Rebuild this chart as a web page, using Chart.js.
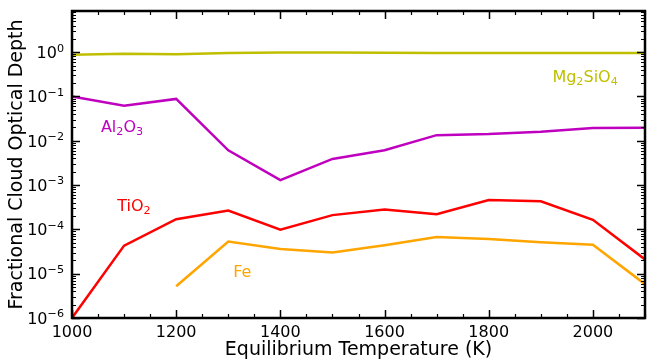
<!DOCTYPE html>
<html>
<head>
<meta charset="utf-8">
<script src="https://cdn.jsdelivr.net/npm/chart.js@4.4.1/dist/chart.umd.min.js"></script>
<style>
  html, body { margin: 0; padding: 0; background: #fff; }
  #wrap { width: 647px; height: 362px; }
</style>
</head>
<body>
<div id="wrap"><canvas id="c" width="647" height="362"></canvas></div>
<script>
// ---- Data ----
const temperatures = [1000, 1100, 1200, 1300, 1400, 1500, 1600, 1700, 1800, 1900, 2000, 2100];
const mg2sio4 = [0.88, 0.92, 0.90, 0.96, 0.98, 0.98, 0.97, 0.96, 0.96, 0.96, 0.96, 0.96];
const al2o3   = [0.10, 0.062, 0.088, 0.0061, 0.0013, 0.0039, 0.0061, 0.0134, 0.0142, 0.016, 0.0195, 0.0198];
const tio2    = [1.0e-6, 4.3e-5, 1.7e-4, 2.65e-4, 9.8e-5, 2.1e-4, 2.8e-4, 2.2e-4, 4.6e-4, 4.3e-4, 1.65e-4, 2.1e-5];
const fe      = [null, null, 5.2e-6, 5.3e-5, 3.6e-5, 3.0e-5, 4.4e-5, 6.7e-5, 6.1e-5, 5.1e-5, 4.5e-5, 5.8e-6];

// names / labels in a light mathtext form: _x subscript, ^{..} superscript
const seriesNames = ['Mg_2SiO_4', 'Al_2O_3', 'TiO_2', 'Fe'];
const xTickValues = [1000, 1200, 1400, 1600, 1800, 2000];
const yTickValues = [1e-6, 1e-5, 1e-4, 1e-3, 1e-2, 1e-1, 1];
const yTickLabels = ['10^{−6}', '10^{−5}', '10^{−4}', '10^{−3}', '10^{−2}', '10^{−1}', '10^{0}'];

// ---- Styling ----
const colors = ['#bfbf00', '#bf00bf', '#ff0000', '#ffa500'];
const FONT = "'DejaVu Sans', sans-serif";
const TICK_SIZE = 16;
const LABEL_SIZE = 16;
const TITLE_SIZE = 19;

const toXY = arr => temperatures.map((t, i) => ({x: t, y: arr[i]}));

// Inline label anchors (data coordinates, text baseline centre)
const labelAnchors = [
  {x: 1985, y: 0.21},
  {x: 1096, y: 0.0158},
  {x: 1119, y: 2.6e-4},
  {x: 1327, y: 8.4e-6}
];

function parseRich(s) {
  const out = []; let i = 0;
  while (i < s.length) {
    if (s[i] === '_' || s[i] === '^') {
      const kind = s[i] === '_' ? 'sub' : 'sup'; i++;
      let t;
      if (s[i] === '{') { const j = s.indexOf('}', i); t = s.slice(i + 1, j); i = j + 1; }
      else { t = s[i]; i++; }
      out.push({t, kind});
    } else {
      let j = i; while (j < s.length && s[j] !== '_' && s[j] !== '^') j++;
      out.push({t: s.slice(i, j), kind: 'n'}); i = j;
    }
  }
  return out;
}

function drawRich(ctx, s, x, baseY, size, align) {
  const parts = parseRich(s).map(p => {
    const fs = p.kind === 'n' ? size : size * 0.7;
    ctx.font = fs + 'px ' + FONT;
    return {...p, fs, w: ctx.measureText(p.t).width};
  });
  const total = parts.reduce((a, p) => a + p.w, 0);
  let cx = align === 'center' ? x - total / 2 : align === 'right' ? x - total : x;
  ctx.textAlign = 'left';
  ctx.textBaseline = 'alphabetic';
  parts.forEach(p => {
    ctx.font = p.fs + 'px ' + FONT;
    const dy = p.kind === 'sub' ? size * 0.2 : p.kind === 'sup' ? -size * 0.4 : 0;
    ctx.fillText(p.t, cx, baseY + dy);
    cx += p.w;
  });
}

const frameTicks = {
  id: 'frameTicks',
  afterDatasetsDraw(chart) {
    const {ctx, chartArea: a, scales: {x, y}} = chart;
    ctx.save();
    ctx.strokeStyle = '#000';
    ctx.lineCap = 'butt';
    for (let v = 1000; v <= 2100; v += 50) {
      const px = Math.round(x.getPixelForValue(v)) + 0.5;
      const major = xTickValues.includes(v);
      const len = major ? 8 : 4;
      ctx.lineWidth = major ? 1.5 : 1.2;
      ctx.beginPath();
      ctx.moveTo(px, a.bottom); ctx.lineTo(px, a.bottom - len);
      ctx.moveTo(px, a.top); ctx.lineTo(px, a.top + len);
      ctx.stroke();
    }
    for (let d = -6; d <= 0; d++) {
      for (let k = 1; k <= 9; k++) {
        const v = k * Math.pow(10, d);
        if (v > y.max) continue;
        const py = Math.round(y.getPixelForValue(v)) + 0.5;
        const major = k === 1;
        const len = major ? 8 : 4;
        ctx.lineWidth = major ? 1.5 : 1.2;
        ctx.beginPath();
        ctx.moveTo(a.left, py); ctx.lineTo(a.left + len, py);
        ctx.moveTo(a.right, py); ctx.lineTo(a.right - len, py);
        ctx.stroke();
      }
    }
    ctx.lineWidth = 2.5;
    ctx.strokeRect(a.left, a.top, a.right - a.left, a.bottom - a.top);

    // y tick labels (10 with superscript exponent)
    ctx.fillStyle = '#000';
    yTickValues.forEach((v, i) => {
      const py = y.getPixelForValue(v);
      drawRich(ctx, yTickLabels[i], a.left - 8, py + TICK_SIZE * 0.36, TICK_SIZE, 'right');
    });

    // inline series labels
    labelAnchors.forEach((p, i) => {
      ctx.fillStyle = colors[i];
      drawRich(ctx, seriesNames[i], x.getPixelForValue(p.x), y.getPixelForValue(p.y), LABEL_SIZE, 'center');
    });
    ctx.restore();
  }
};

new Chart(document.getElementById('c'), {
  type: 'line',
  data: {
    datasets: [mg2sio4, al2o3, tio2, fe].map((arr, i) => ({
      label: seriesNames[i],
      data: toXY(arr),
      borderColor: colors[i],
      backgroundColor: colors[i],
      borderWidth: 2.5,
      pointRadius: 0,
      tension: 0,
      spanGaps: false
    }))
  },
  options: {
    responsive: false,
    animation: false,
    devicePixelRatio: 1,
    layout: { padding: { left: 0, top: 11, right: 2, bottom: 0 } },
    plugins: { legend: { display: false }, tooltip: { enabled: false } },
    scales: {
      x: {
        type: 'linear',
        min: 1000, max: 2100,
        afterBuildTicks: s => { s.ticks = xTickValues.map(v => ({value: v})); },
        afterFit: s => { s.height = 44; },
        grid: { display: false, drawTicks: false },
        border: { display: false },
        ticks: { color: '#000', font: { family: FONT, size: TICK_SIZE }, padding: 5, maxRotation: 0, autoSkip: false,
                 callback: v => String(v) },
        title: { display: true, text: 'Equilibrium Temperature (K)', color: '#000',
                 font: { family: FONT, size: TITLE_SIZE }, padding: { top: 0, bottom: 0.5 } }
      },
      y: {
        type: 'logarithmic',
        min: 1e-6, max: 8.5,
        afterBuildTicks: s => { s.ticks = yTickValues.map(v => ({value: v})); },
        afterFit: s => { s.width = 72; },
        grid: { display: false, drawTicks: false },
        border: { display: false },
        ticks: { display: false },
        title: { display: true, text: 'Fractional Cloud Optical Depth', color: '#000',
                 font: { family: FONT, size: TITLE_SIZE }, padding: { top: 5.5, bottom: 0 } }
      }
    }
  },
  plugins: [frameTicks]
});
</script>
</body>
</html>
